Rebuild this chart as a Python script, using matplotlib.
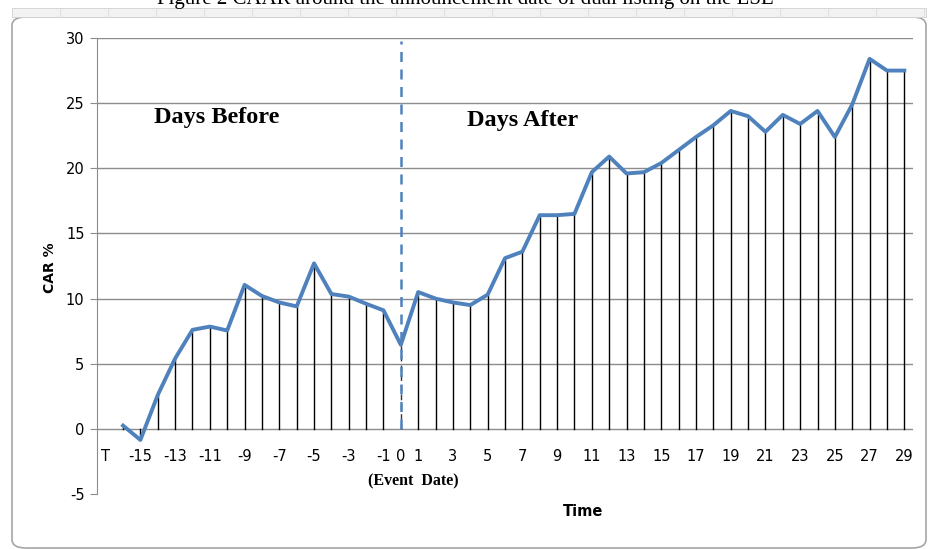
import matplotlib.pyplot as plt
import matplotlib.patches as patches

plt.rcParams["axes.unicode_minus"] = False

# CAR % per event day (-16 .. 29)
days = list(range(-16, 30))
car = [0.25, -0.85, 2.6, 5.4, 7.6, 7.85, 7.55, 11.05, 10.2, 9.7, 9.4, 12.7,
       10.35, 10.15, 9.6, 9.1, 6.45,
       10.5, 10.0, 9.7, 9.5, 10.3, 13.1, 13.6, 16.4, 16.4, 16.5, 19.7, 20.9,
       19.6, 19.7, 20.4, 21.4, 22.4, 23.3, 24.4, 24.0, 22.8, 24.1, 23.4, 24.4,
       22.4, 24.9, 28.4, 27.5, 27.5]

tick_pos = [-17] + list(range(-15, 0, 2)) + [0] + list(range(1, 30, 2))
tick_text = ["T"] + [str(p) for p in tick_pos[1:]]
y_ticks = [-5, 0, 5, 10, 15, 20, 25, 30]

W, H = 930, 549
fig = plt.figure(figsize=(W / 100, H / 100), dpi=100)

# frame of the embedded chart object
frame = patches.FancyBboxPatch((12 / W, 1 - 548 / H), (926 - 12) / W, (548 - 17) / H,
                               boxstyle="round,pad=0,rounding_size=0.015",
                               transform=fig.transFigure, facecolor="white",
                               edgecolor="#a6a6a6", linewidth=1.2, zorder=-2)
fig.patches.append(frame)
# spreadsheet strip above the chart
strip = patches.Rectangle((12 / W, 1 - 17 / H), (926 - 12) / W, 9 / H,
                          transform=fig.transFigure, facecolor="#f2f2f2",
                          edgecolor="#d0d0d0", linewidth=0.6, zorder=-2)
fig.patches.append(strip)
for xp in range(60, 926, 48):
    fig.lines.append(plt.Line2D([xp / W, xp / W], [1 - 17 / H, 1 - 8 / H],
                                transform=fig.transFigure, color="#dcdcdc", lw=0.6,
                                zorder=-1))

fig.text(0.5, 1 + 1 / H, "Figure 2 CAAR around the announcement date of dual listing on the LSE",
         ha="center", va="center", fontsize=15, family="Liberation Serif")

ax = fig.add_axes([97 / W, 1 - 494 / H, (913 - 97) / W, (494 - 38) / H])
ax.set_facecolor("none")
ax.set_xlim(-17.5, 29.5)
ax.set_ylim(-5, 30)

# gridlines
for v in y_ticks[1:]:
    ax.axhline(v, color="#8c8c8c", lw=1.0, zorder=1)

# drop lines from each point to zero
for d, c in zip(days, car):
    if d == 0:
        ax.plot([d, d], [0, c], color="#333333", lw=1.0, ls=(0, (4, 3)), zorder=2)
        continue
    ax.plot([d, d], [0, c], color="black", lw=1.0, zorder=2)

# event date marker
ax.plot([0, 0], [0, 29.8], color="#4f81bd", lw=1.8, ls=(0, (4, 3)), zorder=3)

ax.plot(days, car, color="#4f81bd", lw=2.8, solid_joinstyle="round", zorder=4)

for s in ["top", "right", "bottom"]:
    ax.spines[s].set_visible(False)
ax.spines["left"].set_color("#8c8c8c")
ax.set_xticks([])
ax.set_yticks(y_ticks)
ax.tick_params(axis="y", length=5, color="#8c8c8c", labelsize=10.5, pad=4)

for p, t in zip(tick_pos, tick_text):
    ax.text(p, -2.15, t, ha="center", va="center", fontsize=10.5)

ax.text(0.7, -4.0, "(Event  Date)", ha="center", va="center", fontsize=11.5,
        fontweight="bold", family="Liberation Serif")
ax.text(-10.6, 23.9, "Days Before", ha="center", va="center", fontsize=17.5,
        fontweight="bold", family="Liberation Serif")
ax.text(7.0, 23.7, "Days After", ha="center", va="center", fontsize=17.5,
        fontweight="bold", family="Liberation Serif")

fig.text(583 / W, 1 - 511 / H, "Time", ha="center", va="center", fontsize=10.5,
         fontweight="bold")
fig.text(50 / W, 1 - 268 / H, "CAR %", ha="center", va="center", fontsize=10,
         fontweight="bold", rotation=90)

fig.savefig("out.png", dpi=100)
